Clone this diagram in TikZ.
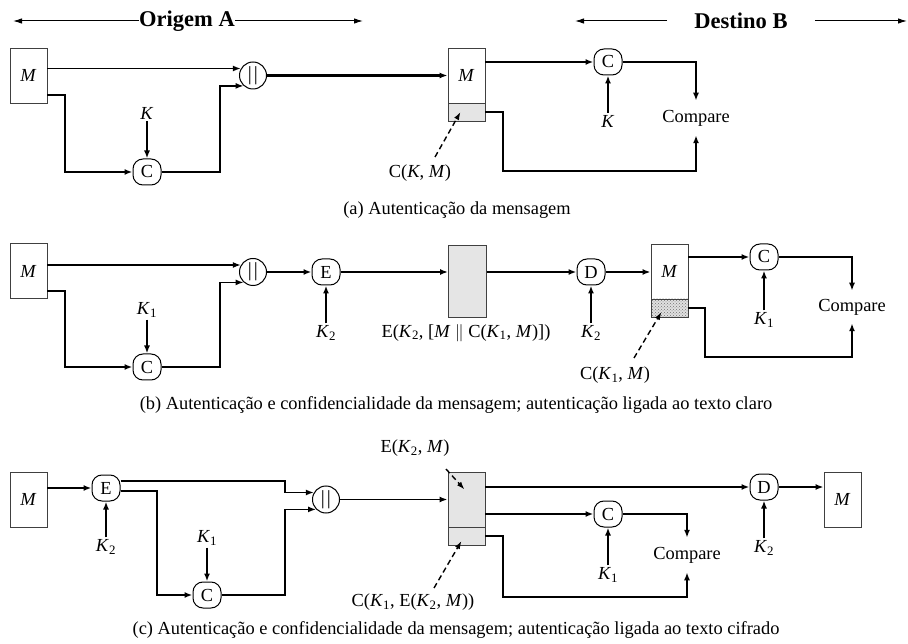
\documentclass[tikz,border=0pt]{standalone}
\usepackage{fontspec}
\setmainfont{Liberation Serif}[BoldFont={Liberation Serif Bold},ItalicFont={Liberation Serif Italic}]
\usetikzlibrary{arrows.meta,patterns}
\newcommand\vM{\textit{M}}
\newcommand\vK{\textit{K}}
\newcommand\orbars{\raisebox{-0.5pt}{\fontsize{20}{20}\selectfont|\hspace{2pt}|}}
\begin{document}
\begin{tikzpicture}[x=1pt,y=-1pt,
  font=\fontsize{18.4}{21}\selectfont,
  conn/.style={line width=1.8pt},
  arr/.style={conn,-{Latex[length=8pt,width=6pt]}},
  karr/.style={line width=2.2pt,-{Latex[length=8pt,width=6pt]},shorten <=1pt},
  dasharr/.style={line width=1.4pt,dash pattern=on 5.5pt off 3.5pt,-{Latex[length=8pt,width=5.5pt]}},
  harr/.style={line width=1pt,-{Latex[length=9pt,width=5.5pt]}},
  hdr/.style={font=\fontsize{22.5}{24}\selectfont\bfseries,inner sep=0pt},
  mbox/.style={draw=black!75,line width=0.9pt,minimum width=37pt,minimum height=55pt,inner sep=0pt},
  lowbox/.style={draw=black!75,line width=0.9pt,minimum width=37pt,minimum height=18pt,inner sep=0pt},
  opc/.style={draw,line width=1pt,rounded corners=10pt,minimum width=28pt,minimum height=26pt,inner sep=0pt},
  opr/.style={draw,line width=1pt,circle,minimum size=27pt,inner sep=0pt},
  klab/.style={inner sep=1pt},
  cmp/.style={inner xsep=1pt,inner ysep=9pt},
  captext/.style={inner sep=0pt}
]
\useasboundingbox (0,0) rectangle (908,644);
\colorlet{boxgray}{black!10}

% ---------- headers
\node[hdr] (hA) at (187,21) {Origem A};
\coordinate (hAl) at (13,21);
\coordinate (hAr) at (363,21);
\draw[harr] (hA.west) -- (hAl);
\draw[harr] (hA.east) -- (hAr);
\node[hdr] (hB) at (741,21) {Destino B};
\coordinate (hBl) at (575,21);
\coordinate (hBr) at (907,21);
\draw[harr] ([xshift=-27pt]hB.west) -- (hBl);
\draw[harr] ([xshift=27pt]hB.east) -- (hBr);

% ---------- panel (a)
\node[mbox] (Ma) at (28.5,75.5) {\vM};
\node[opc] (Ca) at (147,172) {C};
\node[klab] (Ka) at (147,113) {\vK};
\node[opr] (Oa) at (253,75.5) {\orbars};
\node[mbox] (Bua) at (466.5,75.5) {\vM};
\node[lowbox,fill=boxgray] (Bla) at (466.5,112) {};
\node[opc] (C2a) at (608,62) {C};
\node[klab] (K2a) at (608,121) {\vK};
\node[cmp] (Cmpa) at (696,118) {Compare};
\node (lCa) at (420,173) {C(\vK, \vM)};
\coordinate (dsa) at (435,157);
\node[captext] (capa) at (457,210) {(a) Autenticação da mensagem};

\draw[arr] (Ma.east |- Oa.150) -- (Oa.150);
\draw[arr] (Ma.east |- 0,95) -- (65,95) |- (Ca.west);
\draw[karr] (Ka) -- (Ca);
\draw[arr] (Ca.east) -- (220,172) |- (Oa.228);
\draw[line width=2.6pt,-{Latex[length=8pt,width=6pt]}] (Oa.east) -- (Bua.west);
\draw[arr] (Bua.east |- C2a) -- (C2a.west);
\draw[karr] (K2a) -- (C2a);
\draw[arr] (C2a.east) -| (Cmpa.north);
\draw[arr] (Bla.east) -- (503,112) -- (503,171) -| (Cmpa.south);
\draw[dasharr] (dsa) -- ([xshift=-6pt]Bla.center);

% ---------- panel (b)
\node[mbox] (Mb) at (28.5,271) {\vM};
\node[opc] (Cb) at (147,367) {C};
\node[klab] (Kb) at (147,310) {\vK\textsubscript{1}};
\node[opr] (Ob) at (253,272) {\orbars};
\node[opc] (Eb) at (326,272) {E};
\node[klab] (K2b) at (326,333) {\vK\textsubscript{2}};
\node[draw=black!75,line width=0.9pt,fill=boxgray,minimum width=38pt,minimum height=72pt,inner sep=0pt] (Gb) at (467.5,281) {};
\node (lGb) at (466,333) {E(\vK\textsubscript{2}, [\vM\ $\Vert$ C(\vK\textsubscript{1}, \vM)])};
\node[opc] (Db) at (591,272) {D};
\node[klab] (K3b) at (591,333) {\vK\textsubscript{2}};
\node[mbox] (Mb2) at (669.5,271.5) {\vM};
\node[lowbox,pattern=crosshatch dots,pattern color=black!55,preaction={fill=black!12}] (Hb) at (669.5,308) {};
\node[opc] (C3b) at (764,257) {C};
\node[klab] (K4b) at (764,320) {\vK\textsubscript{1}};
\node[cmp,inner ysep=8pt] (Cmpb) at (852,307) {Compare};
\node (lHb) at (615,375) {C(\vK\textsubscript{1}, \vM)};
\coordinate (dsb) at (634,358);
\node[captext] (capb) at (456,405) {(b) Autenticação e confidencialidade da mensagem; autenticação ligada ao texto claro};

\draw[arr] (Mb.east |- Ob.150) -- (Ob.150);
\draw[arr] (Mb.east |- 0,291) -- (65,291) |- (Cb.west);
\draw[karr] (Kb) -- (Cb);
\draw[arr] (Cb.east) -- (220,367) |- (Ob.228);
\draw[arr] (Ob.east) -- (Eb.west);
\draw[karr] (K2b) -- (Eb);
\draw[arr] (Eb.east) -- (Eb.east -| Gb.west);
\draw[arr] (Gb.east |- Db) -- (Db.west);
\draw[karr] (K3b) -- (Db);
\draw[arr] (Db.east) -- (Db.east -| Mb2.west);
\draw[arr] (Mb2.east |- C3b) -- (C3b.west);
\draw[karr] (K4b) -- (C3b);
\draw[arr] (C3b.east) -| (Cmpb.north);
\draw[arr] (Hb.east) -- (705,308) -- (705,357) -| (Cmpb.south);
\draw[dasharr] (dsb) -- ([xshift=-8pt,yshift=-4pt]Hb.center);

% ---------- panel (c)
\node[mbox] (Mc) at (28.5,499.5) {\vM};
\node[opc] (Ec) at (106,488) {E};
\node[klab] (Kc) at (106,547) {\vK\textsubscript{2}};
\node[opc] (Cc) at (207,595) {C};
\node[klab] (K1c) at (207,538) {\vK\textsubscript{1}};
\node[opr] (Oc) at (326,499.5) {\orbars};
\node[mbox,fill=boxgray] (Bc) at (466.5,499.5) {};
\node[lowbox,fill=boxgray] (Blc) at (466.5,536) {};
\node (lEc) at (415,448) {E(\vK\textsubscript{2}, \vM)};
\coordinate (dsc1) at (446,469);
\node (lBc) at (413,602) {C(\vK\textsubscript{1}, E(\vK\textsubscript{2}, \vM))};
\coordinate (dsc2) at (434,588);
\node[opc] (Dc) at (764,487) {D};
\node[klab] (K2c) at (764,548) {\vK\textsubscript{2}};
\node[mbox] (Mc2) at (842.5,499.5) {\vM};
\node[opc] (Cc2) at (608,514) {C};
\node[klab] (K3c) at (608,575) {\vK\textsubscript{1}};
\node[cmp,inner ysep=9pt] (Cmpc) at (687,555) {Compare};
\node[captext] (capc) at (456,630) {(c) Autenticação e confidencialidade da mensagem; autenticação ligada ao texto cifrado};

\draw[arr] (Mc.east |- Ec) -- (Ec.west);
\draw[karr] (Kc) -- (Ec);
\draw[arr] ([yshift=7pt]Ec.east) -- (285,481) |- (Oc.150);
\draw[arr] ([yshift=-3pt]Ec.east) -- (157,491) |- (Cc.west);
\draw[karr] (K1c) -- (Cc);
\draw[arr] (Cc.east) -- (285,595) |- (Oc.225);
\draw[arr] (Oc.east) -- (Oc.east -| Bc.west);
\draw[arr] (Bc.east |- Dc) -- (Dc.west);
\draw[karr] (K2c) -- (Dc);
\draw[arr] (Dc.east) -- (Dc.east -| Mc2.west);
\draw[arr] (Bc.east |- Cc2) -- (Cc2.west);
\draw[karr] (K3c) -- (Cc2);
\draw[arr] (Cc2.east) -| (Cmpc.north);
\draw[arr] (Blc.east) -- (503,536) -- (503,597) -| (Cmpc.south);
\draw[dasharr] (dsc1) -- ([xshift=-2pt,yshift=10pt]Bc.center);
\draw[dasharr] (dsc2) -- ([xshift=-5pt,yshift=-5pt]Blc.center);
\end{tikzpicture}
\end{document}
